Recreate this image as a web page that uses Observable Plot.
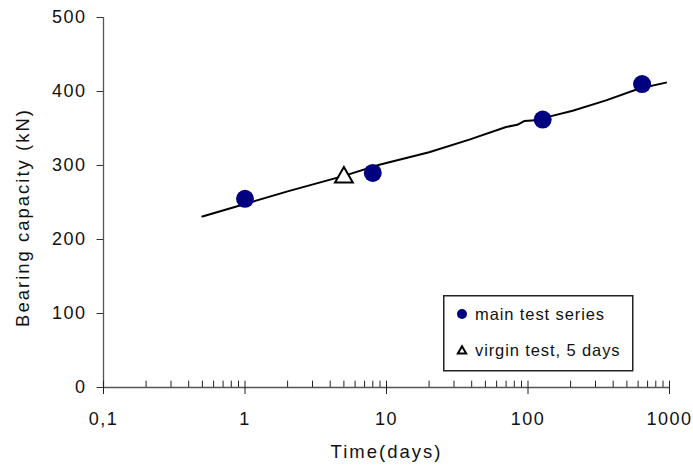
<!DOCTYPE html>
<html>
<head>
<meta charset="utf-8">
<script src="https://cdn.jsdelivr.net/npm/d3@7"></script>
<script src="https://cdn.jsdelivr.net/npm/@observablehq/plot@0.6"></script>
<style>
  body { margin: 0; background: #fff; }
  #wrap { position: relative; width: 693px; height: 470px; font-family: Arial, "Liberation Sans", sans-serif; }
  #legend { position: absolute; left: 443px; top: 295px; }
</style>
</head>
<body>
<div id="wrap"></div>
<script>
// ---- data ----
const mainTime = [1, 8, 127, 640];
const mainCap = [255, 290, 362, 410];
const virginTime = [5];
const virginCap = [284];
const curveTime = [0.5, 1, 2, 5, 8.9, 20, 38.5, 70, 84, 94, 113, 141, 207, 356, 612, 945];
const curveCap = [231, 248, 265, 286, 301, 318, 335, 352, 355, 360, 361, 366, 374, 388, 404, 412];
const yTicks = [0, 100, 200, 300, 400, 500];
const xMajor = [0.1, 1, 10, 100, 1000];
const xMinor = [0.2, 0.3, 0.4, 0.5, 0.6, 0.7, 0.8, 0.9,
                2, 3, 4, 5, 6, 7, 8, 9,
                20, 30, 40, 50, 60, 70, 80, 90,
                200, 300, 400, 500, 600, 700, 800, 900];
const legendLabels = ["main test series", "virgin test, 5 days"];

const mainData = mainTime.map((t, i) => ({t, c: mainCap[i]}));
const virginData = virginTime.map((t, i) => ({t, c: virginCap[i]}));
const curveData = curveTime.map((t, i) => ({t, c: curveCap[i]}));

const font = 'Arial, "Liberation Sans", sans-serif';
const axisColor = "#555";

const chart = Plot.plot({
  width: 693,
  height: 470,
  marginLeft: 103,
  marginRight: 24,
  marginTop: 17,
  marginBottom: 83,
  style: {fontFamily: font, background: "#fff", overflow: "visible"},
  x: {type: "log", domain: [0.1, 1000]},
  y: {domain: [0, 500]},
  marks: [
    Plot.ruleX([0.1], {stroke: axisColor, strokeWidth: 1.3}),
    Plot.ruleY([0], {stroke: axisColor, strokeWidth: 1.3}),
    Plot.ruleX(xMinor, {y1: 0, y2: 8.6, stroke: "#222", strokeWidth: 1}),
    Plot.ruleX(xMajor, {y1: 8.6, y2: -9.5, stroke: "#222", strokeWidth: 1}),
    Plot.axisY({ticks: yTicks, tickSize: 6.5, tickPadding: 10.5, fontSize: 18, stroke: "#333", fill: "#111", label: null, tickFormat: d => String(d)}),
    Plot.axisX({ticks: xMajor, tickSize: 0, tickPadding: 25, fontSize: 18, fill: "#111", label: null, tickFormat: d => String(d).replace(".", ",")}),
    Plot.line(curveData, {x: "t", y: "c", stroke: "#000", strokeWidth: 2}),
    Plot.dot(mainData, {x: "t", y: "c", r: 9, fill: "#000080", stroke: "none"}),
    Plot.dot(virginData, {x: "t", y: "c", r: 6.6, symbol: "triangle", fill: "#fff", stroke: "#000", strokeWidth: 2}),
    Plot.text(["Time(days)"], {frameAnchor: "bottom", dy: 70, fontSize: 18.5, fill: "#111", className: "title"}),
    Plot.text(["Bearing capacity (kN)"], {frameAnchor: "left", textAnchor: "middle", rotate: -90, dx: -80, dy: 15, fontSize: 18.5, fill: "#111", className: "title"})
  ]
});
chart.querySelectorAll("text").forEach(t => t.setAttribute("letter-spacing", "1.5"));
chart.querySelectorAll(".title text").forEach(t => t.setAttribute("letter-spacing", "2"));
document.getElementById("wrap").appendChild(chart);

// legend (inside plot area)
const lg = d3.select("#wrap").append("svg").attr("id", "legend")
  .attr("width", 192).attr("height", 78)
  .style("font-family", font);
lg.append("rect").attr("x", 0.75).attr("y", 0.75).attr("width", 189).attr("height", 75)
  .attr("fill", "#fff").attr("stroke", "#222").attr("stroke-width", 1.5);
lg.append("circle").attr("cx", 19).attr("cy", 19).attr("r", 5).attr("fill", "#000080");
lg.append("path").attr("d", d3.symbol(d3.symbolTriangle, 30)()).attr("transform", "translate(19,56)")
  .attr("fill", "#fff").attr("stroke", "#000").attr("stroke-width", 2);
lg.selectAll("text.l").data(legendLabels).join("text")
  .attr("x", 32).attr("y", (d, i) => i === 0 ? 25 : 61)
  .attr("font-size", 16.5).attr("letter-spacing", 0.9).attr("fill", "#111")
  .text(d => d);
</script>
</body>
</html>
